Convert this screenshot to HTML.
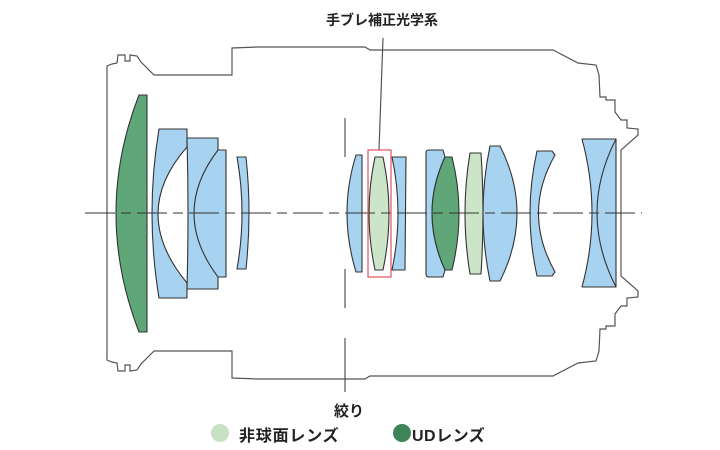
<!DOCTYPE html>
<html><head><meta charset="utf-8"><style>
html,body{margin:0;padding:0;background:#fff;width:720px;height:450px;overflow:hidden}
svg{display:block}
text{font-family:"Liberation Sans","Noto Sans CJK JP",sans-serif;font-weight:bold;fill:#222}
</style></head><body>
<svg width="720" height="450" viewBox="0 0 720 450" xmlns="http://www.w3.org/2000/svg">
<g fill="none" stroke="#555" stroke-width="1.2">
<path d="M107,213 L107,66 L112,64 L117,63 L118,55 L125,55 L125,61 L130,61 L130,55 L137,56 L141,62 L154,75 L232,75 L232,48 L258,47 L300,47 L365,47 L370,50 L553,50 L578,63 L596,65 L599,75 L600,97 L606,97 L606,100 L615,100 L615,112 L621,120 L627,120 L627,128 L638,129 L638,135 L621,150 L621,213"/>
<path d="M107,213 L107,360 L112,362 L117,363 L118,371 L125,371 L125,365 L130,365 L130,371 L137,370 L141,364 L154,351 L232,351 L232,378 L258,379 L300,379 L365,379 L370,376 L553,376 L578,363 L596,361 L599,351 L600,329 L606,329 L606,326 L615,326 L615,314 L621,306 L627,306 L627,298 L638,297 L638,291 L621,276 L621,213"/>
</g>
<g stroke="#333" stroke-width="1.1" stroke-linejoin="round">
<path d="M139,95 L147,95 L147,332 L139,332 Q93,213 139,95 Z" fill="#5fa778"/>
<path d="M159,129 L187,129 L187,147 Q129,213 187,283 L187,298 L159,298 Q145,213 159,129 Z" fill="#a7d3f0"/>
<path d="M187,138 L218,138 L218,150 L226,150 L226,277 L218,277 L218,289 L187,289 Q189,213 187,138 Z" fill="#a7d3f0"/>
<path d="M218,150 Q170,213 218,277" fill="none"/>
<path d="M237,157 L246,157 Q252,213 246,269 L237,269 Q247,213 237,157 Z" fill="#a7d3f0"/>
<path d="M356,155 L362,155 L362,272 L356,272 Q338,213 356,155 Z" fill="#a7d3f0"/>
<path d="M375,157 L383,157 Q395,213 383,270 L375,270 Q363,213 375,157 Z" fill="#cce5c8"/>
<path d="M392,157 L406,157 L405,270 L392,270 Q404,213 392,157 Z" fill="#a7d3f0"/>
<path d="M429,150 L443,150 L445,157 Q419,213 445,270 L443,277 L429,277 Q426,277 426,274 L426,153 Q426,150 429,150 Z" fill="#a7d3f0"/>
<path d="M445,157 L452,157 Q466,213 452,270 L445,270 Q419,213 445,157 Z" fill="#5fa778"/>
<path d="M470,153 L481,153 Q485,213 481,274 L470,274 Q460,213 470,153 Z" fill="#cce5c8"/>
<path d="M490,146 L500,146 Q534,213 500,281 L490,281 Q476,213 490,146 Z" fill="#a7d3f0"/>
<path d="M537,151 L552,151 L555,155 Q522,213 555,272 L552,276 L537,276 Q523,213 537,151 Z" fill="#a7d3f0"/>
<path d="M582,139 L616,139 L616,287 L582,287 Q602,213 582,139 Z" fill="#a7d3f0"/>
<path d="M616,139 Q578,213 616,287" fill="none"/>
</g>
<line x1="85" y1="213" x2="642" y2="213" stroke="#333" stroke-width="1.1" stroke-dasharray="30,6,10,6"/>
<g stroke="#555" stroke-width="1.2">
<line x1="345" y1="118" x2="345" y2="157"/>
<line x1="345" y1="269" x2="345" y2="308"/>
<line x1="345" y1="338" x2="345" y2="392"/>
<line x1="383" y1="38" x2="379" y2="150"/>
</g>
<rect x="368" y="150" width="23" height="127" fill="none" stroke="#e05060" stroke-width="1.2"/>
<text x="382" y="25" font-size="14" text-anchor="middle">手ブレ補正光学系</text>
<text x="349" y="416" font-size="15" text-anchor="middle">絞り</text>
<circle cx="220" cy="433" r="9" fill="#c8e0c4"/>
<text x="239" y="441" font-size="16" letter-spacing="0.8">非球面レンズ</text>
<circle cx="402" cy="433" r="9" fill="#3f8458"/>
<text x="412" y="441" font-size="16" letter-spacing="0.5">UDレンズ</text>
</svg>
</body></html>
